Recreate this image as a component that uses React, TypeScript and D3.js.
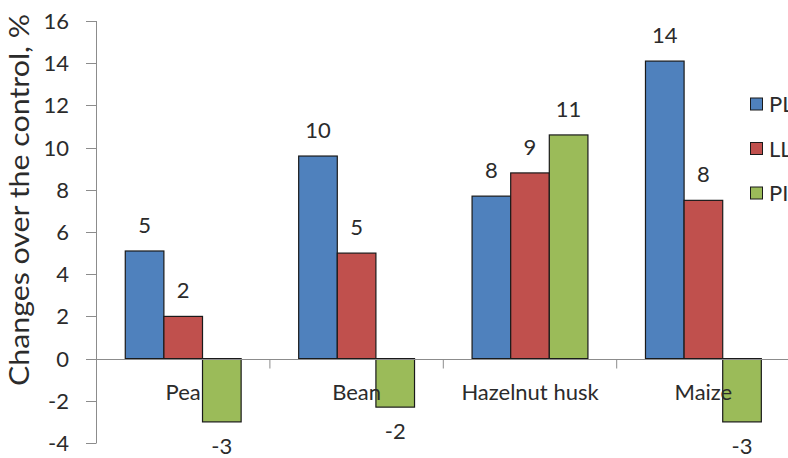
import { useEffect, useRef } from "react";
import * as d3 from "d3";

const categories = ["Pea", "Bean", "Hazelnut husk", "Maize"];
const seriesNames = ["PL", "LL", "PI"];
const plValues = [5.1, 9.6, 7.7, 14.1];
const llValues = [2.0, 5.0, 8.8, 7.5];
const piValues = [-3.0, -2.3, 10.6, -3.0];
const yTicks = [-4, -2, 0, 2, 4, 6, 8, 10, 12, 14, 16];
const colors = ["#4F81BD", "#C0504D", "#9BBB59"];

const W = 788,
  H = 458;
const FONT = "Lato, 'Open Sans', sans-serif";
const TEXT = "#2b2b2b";
const AXIS = "#8c8c8c";

export default function App() {
  const ref = useRef<SVGSVGElement>(null);

  useEffect(() => {
    const svg = d3.select(ref.current);
    svg.selectAll("*").remove();

    const series = [plValues, llValues, piValues];
    const rows = categories.map((c, i) => ({
      cat: c,
      vals: series.map((s, k) => ({ name: seriesNames[k], v: s[i], k })),
    }));

    const x = d3.scaleBand().domain(categories).range([96.5, 96.5 + 4 * 173.4]);
    const xi = d3
      .scaleBand()
      .domain(seriesNames)
      .range([0, x.bandwidth()])
      .paddingInner(0)
      .paddingOuter(0.745);
    const y = d3.scaleLinear().domain([-4, 16]).range([443, 21]);

    // y axis
    const yAxis = svg.append("g");
    yAxis
      .append("line")
      .attr("x1", 96.5)
      .attr("x2", 96.5)
      .attr("y1", y(16))
      .attr("y2", y(-4))
      .attr("stroke", AXIS);
    yAxis
      .selectAll(".ytick")
      .data(yTicks)
      .enter()
      .append("line")
      .attr("x1", 86)
      .attr("x2", 96.5)
      .attr("y1", (d) => Math.round(y(d)) + 0.5)
      .attr("y2", (d) => Math.round(y(d)) + 0.5)
      .attr("stroke", AXIS);
    yAxis
      .selectAll(".ylabel")
      .data(yTicks)
      .enter()
      .append("text")
      .attr("x", 69)
      .attr("y", (d) => y(d) + 8)
      .attr("text-anchor", "end")
      .attr("font-size", 22)
      .attr("font-family", FONT)
      .attr("fill", TEXT)
      .text((d) => d);

    svg
      .append("text")
      .attr("transform", `translate(29, 200) rotate(-90)`)
      .attr("text-anchor", "middle")
      .attr("font-size", 27)
      .attr("font-family", FONT)
      .attr("fill", TEXT)
      .attr("textLength", 372)
      .attr("lengthAdjust", "spacingAndGlyphs")
      .text("Changes over the control, %");

    // bars
    const groups = svg
      .selectAll(".grp")
      .data(rows)
      .enter()
      .append("g")
      .attr("transform", (d) => `translate(${x(d.cat)},0)`);

    groups
      .selectAll("rect")
      .data((d) => d.vals)
      .enter()
      .append("rect")
      .attr("x", (d) => xi(d.name)!)
      .attr("width", xi.bandwidth())
      .attr("y", (d) => y(Math.max(0, d.v)))
      .attr("height", (d) => Math.abs(y(d.v) - y(0)))
      .attr("fill", (d) => colors[d.k])
      .attr("stroke", "#1a1a1a")
      .attr("stroke-width", 1.2);

    groups
      .selectAll(".val")
      .data((d) => d.vals)
      .enter()
      .append("text")
      .attr("x", (d) => xi(d.name)! + xi.bandwidth() / 2)
      .attr("y", (d) => (d.v >= 0 ? y(d.v) - 18 : y(d.v) + 32))
      .attr("text-anchor", "middle")
      .attr("font-size", 22)
      .attr("font-family", FONT)
      .attr("fill", TEXT)
      .text((d) => Math.round(d.v));

    // x axis at zero
    const y0 = Math.round(y(0)) + 0.5;
    svg
      .append("line")
      .attr("x1", 96.5)
      .attr("x2", W)
      .attr("y1", y0)
      .attr("y2", y0)
      .attr("stroke", AXIS);
    svg
      .selectAll(".xtick")
      .data(categories.slice(1))
      .enter()
      .append("line")
      .attr("x1", (d) => x(d)!)
      .attr("x2", (d) => x(d)!)
      .attr("y1", y0)
      .attr("y2", y0 + 9)
      .attr("stroke", AXIS);
    svg
      .selectAll(".xlabel")
      .data(categories)
      .enter()
      .append("text")
      .attr("x", (d) => x(d)! + x.bandwidth() / 2)
      .attr("y", 400)
      .attr("text-anchor", "middle")
      .attr("font-size", 22)
      .attr("font-family", FONT)
      .attr("fill", TEXT)
      .text((d) => d);

    // legend
    const legend = svg
      .selectAll(".leg")
      .data(seriesNames)
      .enter()
      .append("g")
      .attr("transform", (_, i) => `translate(750, ${104 + i * 44.5})`);
    legend
      .append("rect")
      .attr("x", 0.5)
      .attr("y", -6)
      .attr("width", 12)
      .attr("height", 12)
      .attr("fill", (_, i) => colors[i])
      .attr("stroke", "#1a1a1a");
    legend
      .append("text")
      .attr("x", 19)
      .attr("y", 8)
      .attr("font-size", 22)
      .attr("font-family", FONT)
      .attr("fill", TEXT)
      .text((d) => d);
  }, []);

  return (
    <svg
      ref={ref}
      width={W}
      height={H}
      style={{ position: "absolute", left: 0, top: 0, background: "#fff" }}
    />
  );
}
